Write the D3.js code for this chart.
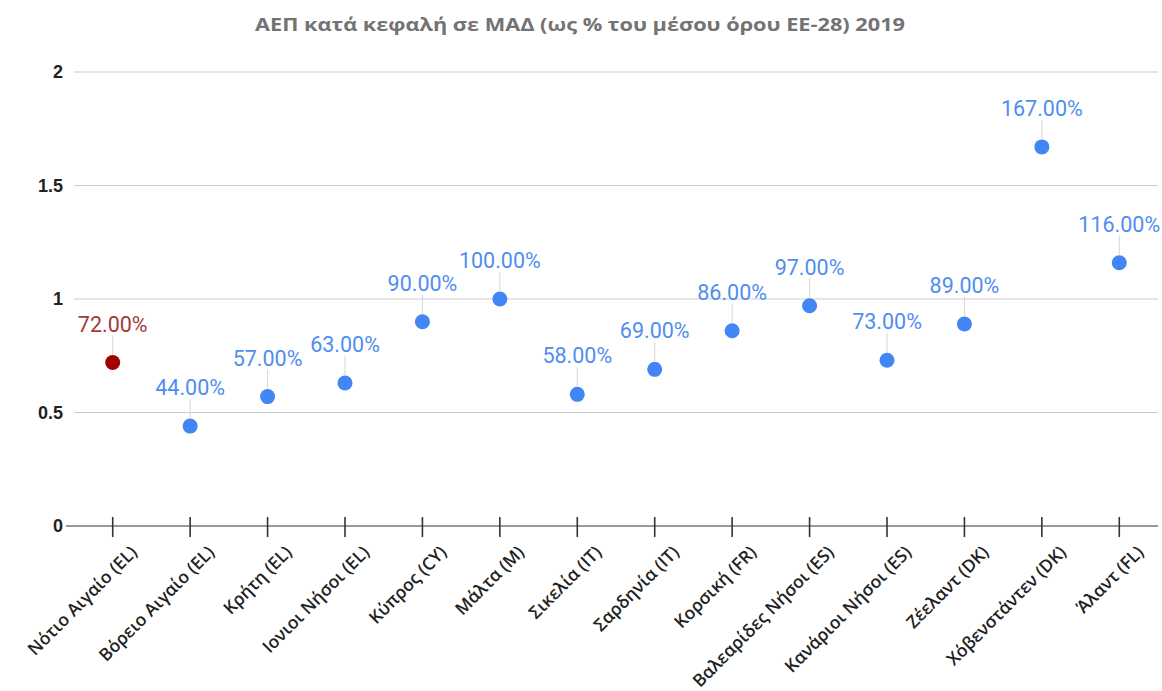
<!DOCTYPE html>
<html>
<head>
<meta charset="utf-8">
<script src="https://cdn.jsdelivr.net/npm/d3@7"></script>
<style>
  html, body { margin: 0; padding: 0; background: #fff; }
  svg { display: block; }
</style>
</head>
<body>
<svg id="chart" width="1162" height="691"></svg>
<script>
// Regions and GDP per capita in PPS as a share of the EU-28 average
const regions = [
  "Νότιο Αιγαίο (EL)", "Βόρειο Αιγαίο (EL)", "Κρήτη (EL)", "Ιονιοι Νήσοι (EL)",
  "Κύπρος (CY)", "Μάλτα (M)", "Σικελία (IT)", "Σαρδηνία (IT)", "Κορσική (FR)",
  "Βαλεαρίδες Νήσοι (ES)", "Κανάριοι Νήσοι (ES)", "Ζέελαντ (DK)",
  "Χόβενστάντεν (DK)", "Άλαντ (FL)"
];
const gdpShare = [0.72, 0.44, 0.57, 0.63, 0.90, 1.00, 0.58, 0.69, 0.86, 0.97, 0.73, 0.89, 1.67, 1.16];
const highlighted = ["Νότιο Αιγαίο (EL)"];
const yTicks = [0, 0.5, 1, 1.5, 2];
const title = "ΑΕΠ κατά κεφαλή σε ΜΑΔ (ως % του μέσου όρου ΕΕ-28) 2019";

const svg = d3.select("#chart");
const plotLeft = 74, plotRight = 1158, plotTop = 72, plotBottom = 526;

const x = d3.scaleBand().domain(regions).range([plotLeft, plotRight]);
const y = d3.scaleLinear().domain([0, 2]).range([plotBottom, plotTop]);

const data = regions.map((r, i) => ({ region: r, value: gdpShare[i], hl: highlighted.includes(r) }));

// Title
svg.append("text")
  .attr("x", 580).attr("y", 31)
  .attr("text-anchor", "middle")
  .attr("font-family", "'Open Sans', Arial, sans-serif")
  .attr("font-weight", "bold")
  .attr("font-size", 18.5)
  .attr("textLength", 650)
  .attr("lengthAdjust", "spacingAndGlyphs")
  .attr("fill", "#737373")
  .text(title);

// Horizontal gridlines
svg.append("g")
  .selectAll("line")
  .data(yTicks.filter(d => d !== 0))
  .join("line")
  .attr("x1", plotLeft).attr("x2", plotRight)
  .attr("y1", d => y(d)).attr("y2", d => y(d))
  .attr("stroke", "#cccccc").attr("stroke-width", 1);

// Y axis labels
const yAxis = svg.append("g")
  .attr("transform", `translate(${plotLeft},0)`)
  .call(d3.axisLeft(y).tickValues(yTicks).tickSize(0).tickPadding(11).tickFormat(d3.format("~g")));
yAxis.select(".domain").remove();
yAxis.selectAll("text")
  .attr("font-family", "'Liberation Sans', Arial, sans-serif")
  .attr("font-weight", "bold")
  .attr("font-size", 18)
  .attr("fill", "#222");

// X axis with crossing ticks
const xAxis = svg.append("g")
  .attr("transform", `translate(0,${plotBottom})`)
  .call(d3.axisBottom(x).tickSizeInner(11).tickSizeOuter(0).tickPadding(6));
xAxis.select(".domain").attr("stroke", "#333").attr("stroke-width", 1.2).attr("d", `M${plotLeft - 8},0H${plotRight}`);
xAxis.selectAll(".tick line").attr("stroke", "#333").attr("stroke-width", 1.6).attr("y1", -9);
xAxis.selectAll(".tick text")
  .attr("font-family", "'Open Sans', sans-serif")
  .attr("font-weight", 600)
  .attr("font-size", 17.5)
  .attr("fill", "#222")
  .attr("text-anchor", "end")
  .attr("dy", "0.35em")
  .attr("transform", "translate(9,11) rotate(-45)");

// Leader lines from labels to points
svg.append("g")
  .selectAll("line")
  .data(data)
  .join("line")
  .attr("x1", d => x(d.region) + x.bandwidth() / 2)
  .attr("x2", d => x(d.region) + x.bandwidth() / 2)
  .attr("y1", d => y(d.value) - 27)
  .attr("y2", d => y(d.value) - 8)
  .attr("stroke", "#d6d6d6").attr("stroke-width", 1);

// Points
svg.append("g")
  .selectAll("circle")
  .data(data)
  .join("circle")
  .attr("cx", d => x(d.region) + x.bandwidth() / 2)
  .attr("cy", d => y(d.value))
  .attr("r", 7.5)
  .attr("fill", d => d.hl ? "#a30000" : "#4285f4");

// Value labels
svg.append("g")
  .selectAll("text")
  .data(data)
  .join("text")
  .attr("x", d => x(d.region) + x.bandwidth() / 2)
  .attr("y", d => y(d.value) - 31)
  .attr("text-anchor", "middle")
  .attr("font-family", "Roboto, Arial, sans-serif")
  .attr("font-size", 21.5)
  .attr("fill", d => d.hl ? "#a33a3a" : "#4f8ef0")
  .text(d => d3.format(".2f")(d.value * 100) + "%");
</script>
</body>
</html>
